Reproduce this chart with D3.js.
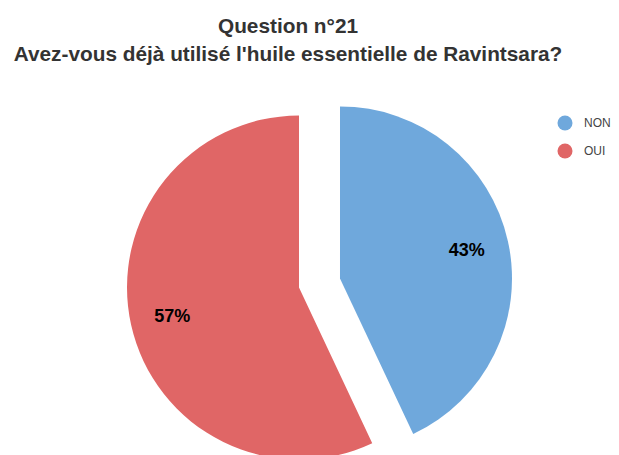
<!DOCTYPE html>
<html>
<head>
<meta charset="utf-8">
<script src="https://cdn.jsdelivr.net/npm/d3@7"></script>
<style>
  body { margin: 0; background: #fff; }
  svg { display: block; font-family: "Liberation Sans", Arial, sans-serif; }
</style>
</head>
<body>
<svg width="619" height="455"></svg>
<script>
const categories = ["NON", "OUI"];
const values = [43, 57];
const colors = ["#6fa8dc", "#e06666"];
const titleLines = ["Question n°21", "Avez-vous déjà utilisé l'huile essentielle de Ravintsara?"];

const svg = d3.select("svg"),
  width = +svg.attr("width"),
  height = +svg.attr("height");

const cx = 319.5, cy = 283, radius = 172, explode = 21;

// title
svg.append("g")
  .selectAll("text")
  .data(titleLines)
  .join("text")
  .attr("x", 288)
  .attr("y", (d, i) => 33 + i * 28)
  .attr("text-anchor", "middle")
  .attr("font-size", 20.8)
  .attr("font-weight", "bold")
  .attr("fill", "#333")
  .text(d => d);

const color = d3.scaleOrdinal().domain(categories).range(colors);

const pie = d3.pie().sort(null).value(d => d.value);
const data = pie(categories.map((c, i) => ({ name: c, value: values[i] })));

const arc = d3.arc().innerRadius(0).outerRadius(radius);

// unit vector along slice bisector
const dir = d => {
  const a = (d.startAngle + d.endAngle) / 2;
  return [Math.sin(a), -Math.cos(a)];
};

const slices = svg.append("g")
  .attr("transform", `translate(${cx},${cy})`)
  .selectAll("g")
  .data(data)
  .join("g")
  .attr("transform", d => {
    const [ux, uy] = dir(d);
    return `translate(${ux * explode},${uy * explode})`;
  });

slices.append("path")
  .attr("d", arc)
  .attr("fill", d => color(d.data.name));

const total = d3.sum(values);
slices.append("text")
  .attr("x", d => dir(d)[0] * radius * 0.755)
  .attr("y", d => dir(d)[1] * radius * 0.755)
  .attr("text-anchor", "middle")
  .attr("dy", "0.35em")
  .attr("font-size", 18)
  .attr("font-weight", "bold")
  .attr("fill", "#000")
  .text(d => Math.round(d.data.value / total * 100) + "%");

// legend
const legend = svg.append("g")
  .selectAll("g")
  .data(categories)
  .join("g")
  .attr("transform", (d, i) => `translate(565,${123 + i * 28})`);

legend.append("circle")
  .attr("r", 7.5)
  .attr("fill", d => color(d));

legend.append("text")
  .attr("x", 19)
  .attr("dy", "0.35em")
  .attr("font-size", 12)
  .attr("fill", "#444")
  .text(d => d);
</script>
</body>
</html>
